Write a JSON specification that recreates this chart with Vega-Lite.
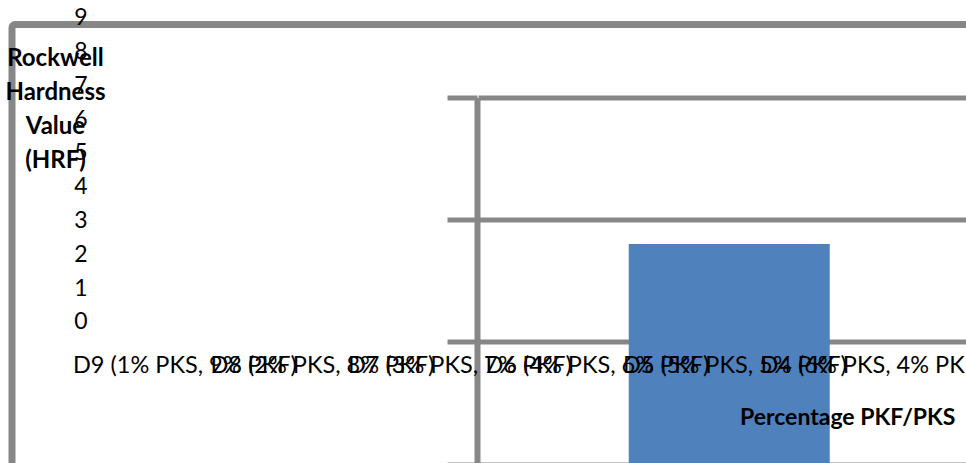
{
  "$schema": "https://vega.github.io/schema/vega-lite/v6.json",
  "width": 960,
  "height": 445,
  "autosize": {"type": "none"},
  "padding": {"left": 12, "top": 24.5, "right": -6, "bottom": -6},
  "background": "white",
  "config": {
    "view": {"stroke": "#878787", "strokeWidth": 7, "cornerRadius": 3, "fill": "white"},
    "font": "Lato"
  },
  "datasets": {
    "hardness": [
      {"mix": "D9 (1% PKS, 9% PKF)", "hrf": 36}
    ],
    "mixes": [
      {"mix": "D9 (1% PKS, 9% PKF)"},
      {"mix": "D8 (2% PKS, 8% PKF)"},
      {"mix": "D7 (3% PKS, 7% PKF)"},
      {"mix": "D6 (4% PKS, 6% PKF)"},
      {"mix": "D5 (5% PKS, 5% PKF)"},
      {"mix": "D4 (6% PKS, 4% PKF)"}
    ]
  },
  "resolve": {
    "scale": {"x": "independent", "y": "independent"},
    "axis": {"x": "independent", "y": "independent"}
  },
  "layer": [
    {
      "data": {"name": "hardness"},
      "mark": {"type": "bar", "color": "#4F81BD"},
      "encoding": {
        "x": {
          "field": "mix",
          "type": "nominal",
          "sort": null,
          "scale": {
            "type": "band",
            "domain": [
              "D9 (1% PKS, 9% PKF)",
              "D8 (2% PKS, 8% PKF)",
              "D7 (3% PKS, 7% PKF)",
              "D6 (4% PKS, 6% PKF)",
              "D5 (5% PKS, 5% PKF)",
              "D4 (6% PKS, 4% PKF)"
            ],
            "range": [466, 3481],
            "paddingInner": 0.6,
            "paddingOuter": 0.3
          },
          "axis": {
            "orient": "bottom",
            "zindex": 1,
            "labels": false,
            "ticks": false,
            "domain": false,
            "grid": false,
            "title": "Percentage PKF/PKS",
            "titleFont": "Lato",
            "titleFontWeight": "bold",
            "titleFontSize": 23,
            "titleColor": "#000000",
            "titleAngle": 0,
            "titleAlign": "right",
            "titleBaseline": "alphabetic",
            "titleX": 943,
            "titleY": -45.5
          }
        },
        "y": {
          "field": "hrf",
          "type": "quantitative",
          "scale": {"domain": [0, 60], "range": [439.5, 73], "nice": false, "zero": true},
          "axis": {
            "orient": "left",
            "offset": -465,
            "values": [0, 20, 40, 60],
            "labels": false,
            "title": null,
            "grid": true,
            "gridColor": "#878787",
            "gridWidth": 5,
            "gridOpacity": 1,
            "ticks": true,
            "tickSize": 30,
            "tickColor": "#878787",
            "tickWidth": 5,
            "domain": true,
            "domainColor": "#878787",
            "domainWidth": 6
          }
        }
      }
    },
    {
      "data": {"name": "mixes"},
      "mark": {
        "type": "text",
        "align": "left",
        "baseline": "middle",
        "font": "Lato",
        "fontSize": 23.5,
        "color": "#000000"
      },
      "encoding": {
        "x": {
          "field": "mix",
          "type": "nominal",
          "sort": null,
          "scale": {
            "type": "point",
            "domain": [
              "D9 (1% PKS, 9% PKF)",
              "D8 (2% PKS, 8% PKF)",
              "D7 (3% PKS, 7% PKF)",
              "D6 (4% PKS, 6% PKF)",
              "D5 (5% PKS, 5% PKF)",
              "D4 (6% PKS, 4% PKF)"
            ],
            "range": [61, 748.5],
            "padding": 0
          },
          "axis": null
        },
        "y": {
          "datum": -1.3,
          "type": "quantitative",
          "scale": {"domain": [-4.423, 9.186], "range": [447, -13], "nice": false, "zero": false},
          "axis": {
            "orient": "left",
            "offset": -75,
            "values": [0, 1, 2, 3, 4, 5, 6, 7, 8, 9],
            "format": "d",
            "domain": false,
            "ticks": false,
            "tickSize": 0,
            "grid": false,
            "labelPadding": 0,
            "labelFont": "Lato",
            "labelFontSize": 23,
            "labelColor": "#000000",
            "labelAlign": "right",
            "labelBaseline": "middle",
            "labelOverlap": false,
            "labelFlush": false,
            "title": ["Rockwell", "Hardness", "Value", "(HRF)"],
            "titleFont": "Lato",
            "titleFontWeight": "bold",
            "titleFontSize": 24,
            "titleColor": "#000000",
            "titleAngle": 0,
            "titleAlign": "center",
            "titleBaseline": "alphabetic",
            "titleLineHeight": 34,
            "titleX": -32,
            "titleY": 40.5
          }
        },
        "text": {"field": "mix", "type": "nominal"}
      }
    }
  ]
}
